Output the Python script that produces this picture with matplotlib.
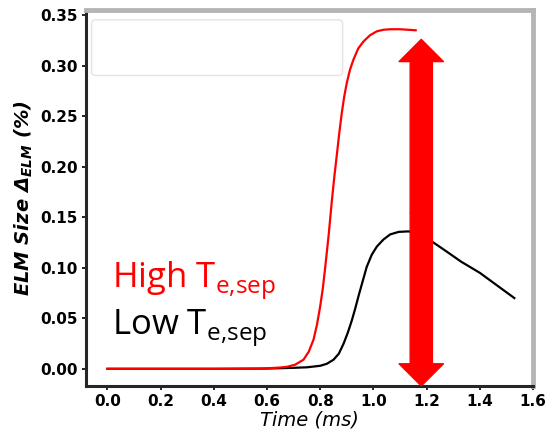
import matplotlib
matplotlib.use("Agg")
import matplotlib.pyplot as plt
from matplotlib.patches import FancyArrowPatch, FancyBboxPatch

# time (ms) and ELM size for the two separatrix temperatures
t_high = [0.0, 0.2, 0.4, 0.58, 0.612, 0.645, 0.675, 0.705, 0.737, 0.757, 0.775, 0.788,
          0.800, 0.810, 0.819, 0.832, 0.844, 0.853, 0.863, 0.872, 0.881, 0.890, 0.900,
          0.912, 0.925, 0.943, 0.963, 0.987, 1.013, 1.038, 1.063, 1.10, 1.159]
high = [0.0, 0.0, 0.0, 0.0, 0.0007, 0.0012, 0.002, 0.004, 0.009, 0.017, 0.029, 0.044,
        0.062, 0.080, 0.101, 0.133, 0.167, 0.190, 0.213, 0.234, 0.253, 0.269, 0.283,
        0.296, 0.306, 0.317, 0.324, 0.330, 0.334, 0.3355, 0.336, 0.336, 0.335]

t_low = [0.0, 0.2, 0.4, 0.6, 0.65, 0.70, 0.75, 0.80, 0.825, 0.850, 0.870, 0.888,
         0.904, 0.919, 0.932, 0.944, 0.960, 0.975, 0.994, 1.013, 1.038, 1.063, 1.095,
         1.132, 1.165, 1.22, 1.27, 1.33, 1.40, 1.53]
low = [0.0, 0.0, 0.0, 0.0003, 0.0006, 0.001, 0.0015, 0.003, 0.005, 0.009, 0.015, 0.025,
       0.036, 0.048, 0.060, 0.072, 0.087, 0.101, 0.113, 0.121, 0.128, 0.133, 0.1355,
       0.136, 0.134, 0.126, 0.117, 0.106, 0.095, 0.070]

arrow_x = 1.18
arrow_top = 0.326
arrow_bottom = -0.017

fig, ax = plt.subplots(figsize=(5.56, 4.37), dpi=100)
fig.subplots_adjust(left=0.155, right=0.9586, bottom=0.1167, top=0.977)

ax.plot(t_low, low, color="black", lw=1.6)
ax.plot(t_high, high, color="red", lw=1.6)

# big double-headed arrow
mid = (arrow_top + arrow_bottom) / 2
style = "simple,head_width=32,head_length=16,tail_width=16"
for end in (arrow_top, arrow_bottom):
    ax.add_patch(FancyArrowPatch((arrow_x, mid), (arrow_x, end), arrowstyle=style,
                                 color="red", shrinkA=0, shrinkB=0, zorder=5))

# faint empty legend frame
ax.add_patch(FancyBboxPatch((0.012, 0.826), 0.562, 0.148, transform=ax.transAxes,
                            boxstyle="round,pad=0,rounding_size=0.01",
                            fc="white", ec="#e4e4e4", lw=1))

ax.text(0.058, 0.261, r"High T$_{\mathregular{e{,}sep}}$", transform=ax.transAxes,
        color="red", fontsize=25, family="Open Sans")
ax.text(0.058, 0.136, r"Low T$_{\mathregular{e{,}sep}}$", transform=ax.transAxes,
        color="black", fontsize=25, family="Open Sans")

ax.set_xlim(-0.08, 1.6)
ax.set_ylim(-0.017, 0.355)
ax.set_xticks([0.0, 0.2, 0.4, 0.6, 0.8, 1.0, 1.2, 1.4, 1.6])
ax.set_yticks([0.0, 0.05, 0.10, 0.15, 0.20, 0.25, 0.30, 0.35])
ax.set_yticklabels(["0.00", "0.05", "0.10", "0.15", "0.20", "0.25", "0.30", "0.35"])
ax.tick_params(labelsize=11, length=3, width=1.2, pad=3)
for lab in ax.get_xticklabels() + ax.get_yticklabels():
    lab.set_fontweight("bold")

ax.set_xlabel("Time (ms)", fontsize=14, fontstyle="italic", labelpad=1)
ax.set_ylabel(r"ELM Size Δ$_{\mathregular{ELM}}$ (%)", fontsize=14,
              fontstyle="italic", fontweight="bold", labelpad=4)

for side in ("left", "bottom"):
    ax.spines[side].set_color("#262626")
    ax.spines[side].set_linewidth(2.2)
for side in ("top", "right"):
    ax.spines[side].set_color("#b5b5b5")
    ax.spines[side].set_linewidth(3.5)

fig.savefig("out.png", dpi=100)
